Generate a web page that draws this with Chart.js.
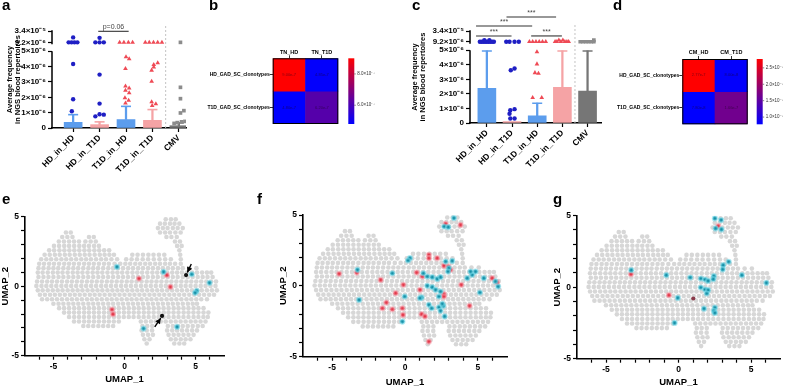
<!DOCTYPE html>
<html>
<head>
<meta charset="utf-8">
<script src="https://cdn.jsdelivr.net/npm/chart.js@4.4.0/dist/chart.umd.min.js"></script>
<style>
html, body { margin: 0; padding: 0; background: #fff; }
#fig { position: relative; width: 786px; height: 388px; overflow: hidden; font-family: 'Liberation Sans', Arial, sans-serif; }
canvas { position: absolute; }
.lbl { position: absolute; font-weight: bold; font-size: 15px; line-height: 15px; color: #000; }
</style>
</head>
<body>
<div id="fig">
  <canvas id="chA" width="195" height="195" style="left:0;top:0"></canvas>
  <canvas id="chB" width="195" height="135" style="left:195px;top:0"></canvas>
  <canvas id="chC" width="203" height="195" style="left:405px;top:0"></canvas>
  <canvas id="chD" width="186" height="135" style="left:600px;top:0"></canvas>
  <canvas id="chE" width="230" height="188" style="left:0;top:200px"></canvas>
  <canvas id="chF" width="235" height="188" style="left:278px;top:200px"></canvas>
  <canvas id="chG" width="234" height="188" style="left:552px;top:200px"></canvas>
  <div class="lbl" style="left:2px;top:-3px">a</div>
  <div class="lbl" style="left:209px;top:-3px">b</div>
  <div class="lbl" style="left:412px;top:-3px">c</div>
  <div class="lbl" style="left:613px;top:-3px">d</div>
  <div class="lbl" style="left:2px;top:191px">e</div>
  <div class="lbl" style="left:257px;top:191px">f</div>
  <div class="lbl" style="left:553px;top:191px">g</div>
</div>
<script>
// ---- panels a / c : average frequency per group ----
const groups = ['HD_in_HD', 'HD_in_T1D', 'T1D_in_HD', 'T1D_in_T1D', 'CMV'];
const yTickVals = [0, 1e-6, 2e-6, 3e-6, 4e-6, 5e-6, 9.2e-6, 3.4e-5];
const yTickLabels = ['0', '1×10⁻⁶', '2×10⁻⁶', '3×10⁻⁶', '4×10⁻⁶', '5×10⁻⁶', '9.2×10⁻⁶', '3.4×10⁻⁵'];

const meanA = [0.37e-6, 0.22e-6, 0.55e-6, 0.5e-6, 0.15e-6];
const errA = [0.87e-6, 0.40e-6, 1.41e-6, 1.20e-6, 0.33e-6];
const hdDotsA = [[0.83, 9.2e-6], [0.94, 9.2e-6], [1.05, 9.2e-6], [1.16, 9.2e-6], [1.0, 2.0e-5], [1.0, 4.17e-6], [1.0, 1.87e-6], [0.95, 1.09e-6],
  [1.84, 9.2e-6], [2.0, 9.2e-6], [2.16, 9.2e-6], [2.0, 1.9e-5], [2.0, 3.48e-6], [2.0, 1.59e-6], [1.84, 0.76e-6], [2.0, 0.9e-6], [2.16, 0.87e-6]];
const t1dDotsA = [[2.76, 9.2e-6], [2.92, 9.2e-6], [3.09, 9.2e-6], [3.25, 9.2e-6], [3.0, 4.63e-6], [3.12, 4.5e-6], [2.98, 3.87e-6], [2.98, 2.72e-6],
  [3.12, 2.6e-6], [2.98, 2.45e-6], [3.12, 2.28e-6], [2.96, 1.96e-6], [3.1, 1.8e-6], [2.98, 1.62e-6],
  [3.73, 9.2e-6], [3.88, 9.2e-6], [4.04, 9.2e-6], [4.2, 9.2e-6], [4.36, 9.2e-6], [4.2, 4.24e-6], [4.05, 4.13e-6], [4.05, 3.96e-6],
  [3.97, 3.76e-6], [3.97, 3.04e-6], [3.97, 1.7e-6], [4.13, 1.57e-6], [3.99, 1.46e-6]];
const cmvDotsA = [[5.06, 9.2e-6], [5.06, 2.65e-6], [5.06, 1.91e-6], [5.06, 0.98e-6], [5.19, 1.13e-6], [4.82, 0.3e-6], [4.94, 0.35e-6], [5.1, 0.4e-6], [5.23, 0.43e-6]];
const sigA = [[1.95, 3.1, 6.3, 'p=0.06']];

const meanC = [2.38e-6, 0.1e-6, 0.5e-6, 2.45e-6, 2.2e-6];
const errC = [4.95e-6, null, 1.36e-6, 4.95e-6, 4.95e-6];
const hdDotsC = [[0.72, 9.2e-6], [0.79, 9.2e-6], [0.86, 9.2e-6], [0.93, 9.2e-6], [1.0, 9.2e-6], [1.07, 9.2e-6], [1.14, 9.2e-6], [1.21, 9.2e-6], [1.28, 9.2e-6],
  [0.9, 1.3e-5], [1.1, 1.3e-5],
  [1.77, 9.2e-6], [1.9, 9.2e-6], [2.1, 9.2e-6], [2.27, 9.2e-6], [1.95, 3.62e-6], [2.1, 3.74e-6], [1.93, 0.88e-6], [2.1, 0.95e-6], [1.9, 0.64e-6], [1.93, 0.31e-6], [2.1, 0.31e-6]];
const t1dDotsC = [[2.69, 9.2e-6], [2.82, 9.2e-6], [2.95, 9.2e-6], [3.08, 9.2e-6], [3.21, 9.2e-6], [3.34, 9.2e-6], [2.99, 4.88e-6], [2.99, 4.05e-6],
  [2.91, 3.45e-6], [3.05, 3.4e-6], [2.82, 1.74e-6], [3.18, 1.74e-6],
  [3.71, 9.2e-6], [3.78, 9.2e-6], [3.86, 1.3e-5], [3.94, 9.2e-6], [4.02, 1.3e-5], [4.1, 9.2e-6], [4.18, 9.2e-6], [4.25, 9.2e-6]];
const cmvDotsC = [[4.71, 9.2e-6], [4.82, 9.2e-6], [4.93, 9.2e-6], [5.04, 9.2e-6], [5.15, 9.2e-6], [5.25, 9.2e-6], [5.25, 1.3e-5]];
const sigC = [[1.78, 3.75, 7.28, '***'], [0.57, 2.8, 6.66, '***'], [0.57, 1.98, 5.98, '***'], [2.76, 3.98, 5.98, '***']];

// ---- panels b / d : heatmaps ----
const hmRows = ['HD_GAD_SC_clonotypes', 'T1D_GAD_SC_clonotypes'];
const hmColsB = ['TN_HD', 'TN_T1D'];
const hmValsB = [[9.0e-7, 4.85e-7], [4.8e-7, 6.2e-7]];
const cbarTicksB = [6.0e-7, 8.0e-7];
const cbarLabelsB = ['6.0×10⁻⁷', '8.0×10⁻⁷'];
const hmColsD = ['CM_HD', 'CM_T1D'];
const hmValsD = [[2.77e-7, 0.8e-7], [0.78e-7, 1.66e-7]];
const cbarTicksD = [1.0e-7, 1.5e-7, 2.0e-7, 2.5e-7];
const cbarLabelsD = ['1.0×10⁻⁷', '1.5×10⁻⁷', '2.0×10⁻⁷', '2.5×10⁻⁷'];

// ---- panels e / f / g : UMAP ----
const umapXTicks = [-6, -5, -4, -3, -2, -1, 0, 1, 2, 3, 4, 5, 6];
const umapYTicks = [-5, -4, -3, -2, -1, 0, 1, 2, 3, 4, 5];
const cloudRows = [
  [4.82, '2.9 3.27 3.6'],
  [4.5, '2.5 2.84 3.2 3.52 3.86'],
  [4.18, '2.35 2.7 3.03 3.4 3.74 4.1'],
  [3.86, '2.5 2.86 3.2 3.58 3.95 -4.12 -3.78'],
  [3.54, '2.95 3.3 3.68 -4.38 -4.02 -3.66 -2.5 -2.16'],
  [3.22, '3.55 3.9 -4.62 -4.26 -3.9 -3.55 -3.2 -2.75 -2.38 -2.02'],
  [2.9, '3.7 4.02 -4.96 -4.6 -4.24 -3.9 -3.54 -3.18 -2.84 -2.5 -2.14 -1.8'],
  [2.58, '3.86 -5.3 -4.95 -4.58 -4.23 -3.88 -3.53 -3.18 -2.82 -2.48 -2.12 -1.78 -1.43 -1.08'],
  [2.26, '3.92 -5.62 -5.26 -4.9 -4.56 -4.2 -3.86 -3.5 -3.15 -2.8 -2.46 -2.1 -1.74 -1.4 -1.06 -0.74 0.55 0.92 1.3 1.68 2.04 2.42 2.8'],
  [1.94, '-5.86 -5.5 -5.16 -4.8 -4.44 -4.1 -3.75 -3.4 -3.04 -2.7 -2.36 -2.0 -1.64 -1.3 -0.92 -0.52 0.12 0.5 0.88 1.28 1.66 2.06 2.46 2.86 3.26 3.96'],
  [1.62, '-6.0 -5.66 -5.3 -4.96 -4.6 -4.24 -3.9 -3.56 -3.2 -2.84 -2.5 -2.16 -1.8 -1.44 -1.1 -0.7 -0.3 0.06 0.4 0.76 1.1 1.46 1.8 2.16 2.5 2.86 3.2 3.56 3.96'],
  [1.3, '-6.05 -5.7 -5.34 -5.0 -4.66 -4.3 -3.95 -3.6 -3.26 -2.9 -2.54 -2.2 -1.86 -1.5 -1.14 -0.8 -0.46 -0.1 0.26 0.6 0.96 1.3 1.66 2.0 2.36 2.7 3.06 3.4 3.76 4.1 4.56 5.06'],
  [0.98, '-6.1 -5.76 -5.4 -5.04 -4.7 -4.36 -4.0 -3.64 -3.3 -2.96 -2.6 -2.24 -1.9 -1.56 -1.2 -0.84 -0.5 -0.16 0.2 0.56 0.9 1.24 1.6 1.96 2.3 2.64 3.0 3.36 3.7 4.04 4.4 4.76 5.1 5.46 5.8 6.1'],
  [0.66, '-6.05 -5.7 -5.35 -5.0 -4.64 -4.3 -3.94 -3.6 -3.25 -2.9 -2.55 -2.2 -1.84 -1.5 -1.15 -0.8 -0.44 -0.1 0.25 0.6 0.95 1.3 1.64 2.0 2.34 2.7 3.05 3.4 3.74 4.1 4.45 4.8 5.15 5.5 5.84 6.2'],
  [0.34, '-6.15 -5.8 -5.44 -5.1 -4.75 -4.4 -4.04 -3.7 -3.35 -3.0 -2.64 -2.3 -1.95 -1.6 -1.24 -0.9 -0.55 -0.2 0.16 0.5 0.85 1.2 1.56 1.9 2.25 2.6 2.96 3.3 3.65 4.0 4.36 4.7 5.05 5.4 5.76 6.1 6.44'],
  [0.02, '-6.2 -5.84 -5.5 -5.15 -4.8 -4.44 -4.1 -3.75 -3.4 -3.04 -2.7 -2.35 -2.0 -1.64 -1.3 -0.95 -0.6 -0.24 0.1 0.45 0.8 1.16 1.5 1.85 2.2 2.56 2.9 3.25 3.6 3.96 4.3 4.65 5.0 5.36 5.7 6.05 6.4'],
  [-0.3, '-6.1 -5.76 -5.4 -5.05 -4.7 -4.36 -4.0 -3.65 -3.3 -2.96 -2.6 -2.25 -1.9 -1.56 -1.2 -0.85 -0.5 -0.16 0.2 0.55 0.9 1.24 1.6 1.95 2.3 2.64 3.0 3.35 3.7 4.04 4.4 4.75 5.1 5.44 5.8 6.15 6.5'],
  [-0.62, '-5.95 -5.6 -5.24 -4.9 -4.55 -4.2 -3.84 -3.5 -3.15 -2.8 -2.44 -2.1 -1.75 -1.4 -1.04 -0.7 -0.35 0.0 0.36 0.7 1.05 1.4 1.76 2.1 2.45 2.8 3.16 3.5 3.85 4.2 4.56 4.9 5.25 5.6 5.96 6.3'],
  [-0.94, '-5.8 -5.44 -5.1 -4.75 -4.4 -4.04 -3.7 -3.35 -3.0 -2.64 -2.3 -1.95 -1.6 -1.24 -0.9 -0.55 -0.2 0.16 0.5 0.85 1.2 1.56 1.9 2.25 2.6 2.96 3.3 3.65 4.0 4.36 4.7 5.05 5.4 5.8'],
  [-1.26, '-5.0 -4.64 -4.3 -3.94 -3.6 -3.25 -2.9 -2.54 -2.2 -1.85 -1.5 -1.14 -0.8 -0.44 -0.1 0.26 0.6 0.95 1.3 1.66 2.0 2.35 2.7 3.06 3.4 3.75 4.1 4.46 4.8 5.1'],
  [-1.58, '-4.6 -4.25 -3.9 -3.54 -3.2 -2.84 -2.5 -2.15 -1.8 -1.44 -1.1 -0.74 -0.4 -0.05 0.3 0.66 1.0 1.35 1.7 2.06 2.4 2.75 3.1 3.46 3.8 4.15 4.5 4.86 5.2 5.56'],
  [-1.9, '-4.25 -3.9 -3.55 -3.2 -2.84 -2.5 -2.15 -1.8 -1.44 -1.1 -0.75 -0.4 -0.04 0.3 0.65 1.0 1.36 1.7 2.05 2.4 2.76 3.1 3.45 3.8 4.16 4.5 4.85 5.2 5.56 5.9'],
  [-2.22, '-3.9 -3.54 -3.2 -2.85 -2.5 -2.14 -1.8 -1.45 -1.1 -0.74 -0.4 -0.05 0.3 0.64 1.0 1.35 1.7 2.06 2.4 2.75 3.1 3.46 3.8 4.15 4.5 4.86 5.2 5.55 5.86'],
  [-2.54, '-3.55 -3.2 -2.84 -2.5 -2.15 -1.8 -1.44 -1.1 -0.75 -0.4 1.15 1.5 1.86 2.2 2.55 2.9 3.26 3.6 3.95 4.3 4.66 5.0 5.35 5.7'],
  [-2.86, '-2.9 -2.55 -2.2 -1.84 -1.5 -1.15 -0.8 1.26 1.6 1.95 3.05 3.4 3.76 4.1 4.45 4.8 5.16 5.5'],
  [-3.18, '1.2 1.56 1.94 3.0 3.36 3.7 4.05 4.4 4.76 5.1'],
  [-3.5, '1.3 1.66 2.0 3.1 3.46 3.8 4.15 4.5 4.86'],
  [-3.82, '1.4 1.76 3.26 3.6 3.96 4.3 4.64'],
  [-4.12, '1.56 3.5 3.86 4.2']
];
const tealE = [[-0.53, 1.39], [2.75, 1.03], [4.73, 0.86], [5.08, -0.34], [4.97, -0.48], [5.98, 0.24], [1.34, -3.05], [3.70, -2.93]];
const redE = [[1.02, 0.55], [2.98, 0.79], [3.23, -0.05], [-0.88, -1.68], [-0.81, -2.01]];
const blackE = [[4.33, 0.8], [2.64, -2.14]];
const arrowsE = [[4.7, 1.6, 4.42, 0.98], [2.13, -2.93, 2.55, -2.3]];
const tealF = [[2.69, 4.19], [2.97, 4.14], [3.36, 4.78], [0.34, 1.95], [0.21, 1.79], [1.26, 0.89], [1.53, 0.66], [1.87, 0.61], [2.21, 0.49],
  [2.44, 0.61], [2.79, 1.72], [3.24, 1.76], [3.01, 1.25], [2.95, 1.01], [1.53, 0.0], [1.87, -0.09], [2.10, -0.28], [2.44, -0.4],
  [2.33, -0.75], [1.14, -0.82], [1.03, -0.87], [1.64, -1.34], [1.83, -1.58], [2.33, -1.51], [2.63, -1.41], [2.44, -1.76], [2.72, -2.16],
  [2.56, -1.27], [-0.02, -0.75], [-0.18, -2.52], [-0.87, 0.89], [-3.15, -0.99], [-3.26, 1.13], [4.27, 0.54], [4.61, 0.78], [4.84, 1.01],
  [4.5, 1.01], [5.14, -0.47], [6.21, 0.31], [6.39, -0.05], [5.41, 0.54]];
const redF = [[2.79, 4.38], [3.81, 4.3], [-4.52, 0.85], [-3.31, 0.94], [-1.67, 0.42], [-1.28, -1.18], [-1.55, -1.58], [-0.87, -1.65],
  [-0.64, -0.52], [-0.11, 0.07], [-0.18, -1.58], [-0.14, -2.05], [0.80, 0.94], [1.19, 0.66], [1.03, -0.28], [1.64, 2.19], [1.64, 1.95],
  [2.21, 1.95], [2.67, 1.41], [2.97, 1.36], [3.13, 1.13], [2.67, -0.59], [2.67, -0.75], [1.14, -2.0], [1.37, -2.16], [1.64, -3.93],
  [3.86, 0.07], [4.43, -1.41], [5.98, 0.54], [6.32, 0.24]];
const tealG = [[2.51, 4.81], [2.94, 4.70], [2.56, 4.11], [2.96, 4.04], [3.46, 1.78], [3.08, 1.54], [3.05, 1.24], [4.37, 0.84], [6.06, 0.30],
  [0.81, 0.68], [1.54, 0.61], [1.83, 0.54], [2.04, 0.44], [2.44, 0.77], [2.40, 0.56], [1.54, -0.02], [1.83, -0.16], [2.04, -0.21],
  [1.95, -0.44], [-0.05, -0.75], [-0.84, 0.84], [-3.26, 1.19], [1.76, -1.5], [2.51, -1.43], [2.44, -1.66], [2.51, -1.8], [-0.27, -2.5]];
const redG = [[2.74, 4.28], [-3.28, 0.91], [-0.66, -0.56]];
const darkRedG = [[1.02, -0.79]];

// colours
const HD_DOT = '#1f1fc4', T1D_DOT = '#ef4a55', CMV_DOT = '#8c8c8c';
const BLUE_BAR = '#5c9ded', PINK_BAR = '#f5a3a5', GRAY_BAR = '#767676';
const TEAL = '#1a8fa6', TEAL_HALO = 'rgba(110,215,232,0.55)';
const RED = '#e23a4b', RED_HALO = 'rgba(246,150,162,0.55)';

Chart.defaults.font.family = "'Liberation Sans', Arial, Helvetica, sans-serif";
Chart.defaults.font.weight = 'bold';
Chart.defaults.color = '#000';
Chart.defaults.animation = false;
Chart.defaults.plugins.legend.display = false;
Chart.defaults.plugins.tooltip.enabled = false;

// broken y axis: 0..5e-6 and 9.2e-6..3.4e-5
const BREAK_LO = 5e-6, TOP_LO = 9.2e-6, TOP_HI = 3.4e-5;
function yT(v) {
  if (v <= BREAK_LO) return v * 1e6;
  return 5.58 + (Math.min(v, TOP_HI) - TOP_LO) / (TOP_HI - TOP_LO) * 0.74;
}

const brokenAxis = {
  id: 'brokenAxis',
  afterDraw(chart) {
    const y = chart.scales.y, ctx = chart.ctx, x0 = chart.chartArea.left;
    ctx.save();
    ctx.strokeStyle = '#000';
    ctx.lineWidth = 1.5;
    ctx.beginPath();
    ctx.moveTo(x0, y.getPixelForValue(0) + 0.75);
    ctx.lineTo(x0, y.getPixelForValue(yT(BREAK_LO)));
    ctx.moveTo(x0, y.getPixelForValue(yT(TOP_LO)) + 2);
    ctx.lineTo(x0, y.getPixelForValue(yT(TOP_HI)) - 0.75);
    ctx.stroke();
    ctx.restore();
  }
};

function sigPlugin(items) {
  return {
    id: 'sigBars',
    afterDraw(chart) {
      const {x, y} = chart.scales, ctx = chart.ctx;
      ctx.save();
      ctx.strokeStyle = '#333';
      ctx.lineWidth = 1.1;
      ctx.fillStyle = '#444';
      ctx.font = 'normal 7px "Liberation Sans", Arial, sans-serif';
      ctx.textAlign = 'center';
      ctx.textBaseline = 'bottom';
      items.forEach(([x1, x2, yv, text]) => {
        const py = y.getPixelForValue(yv);
        ctx.beginPath();
        ctx.moveTo(x.getPixelForValue(x1), py);
        ctx.lineTo(x.getPixelForValue(x2), py);
        ctx.stroke();
        ctx.fillText(text, (x.getPixelForValue(x1) + x.getPixelForValue(x2)) / 2, py - 0.5);
      });
      ctx.restore();
    }
  };
}

function barPanel(id, mean, err, hd, t1d, cmv, sig, lay) {
  const barColors = [BLUE_BAR, PINK_BAR, BLUE_BAR, PINK_BAR, GRAY_BAR];
  const pts = arr => arr.map(([x, v]) => ({x, y: yT(v)}));
  const idx = groups.map((g, i) => i).filter(i => err[i] != null);
  new Chart(document.getElementById(id), {
    type: 'bar',
    data: {
      datasets: [
        {type: 'scatter', data: pts(hd), pointStyle: 'circle', pointRadius: 2.2, pointBackgroundColor: HD_DOT, pointBorderWidth: 0, order: 0},
        {type: 'scatter', data: pts(t1d), pointStyle: 'triangle', pointRadius: 2.7, pointBackgroundColor: T1D_DOT, pointBorderWidth: 0, order: 0},
        {type: 'scatter', data: pts(cmv), pointStyle: 'rect', pointRadius: 2.6, pointBackgroundColor: CMV_DOT, pointBorderWidth: 0, order: 0},
        {type: 'scatter', data: idx.map(i => ({x: i + 1, y: yT(err[i])})), pointStyle: 'line', pointRadius: 5,
          pointBorderColor: idx.map(i => barColors[i]), pointBorderWidth: 1.6, order: 1},
        {type: 'bar', data: idx.map(i => ({x: i + 1, y: [yT(mean[i]), yT(err[i])]})), backgroundColor: idx.map(i => barColors[i]),
          barThickness: 1.6, grouped: false, order: 2},
        {type: 'bar', data: groups.map((g, i) => ({x: i + 1, y: yT(mean[i])})), backgroundColor: barColors,
          barThickness: 18, grouped: false, order: 3},
        {type: 'line', data: [{x: 4.5, y: 0}, {x: 4.5, y: lay.sepTop}], borderColor: '#c4c4c4', borderWidth: 1,
          borderDash: [2, 2], pointRadius: 0, clip: false, order: 4}
      ]
    },
    options: {
      responsive: false,
      layout: {padding: lay.pad},
      scales: {
        x: {
          type: 'linear', min: lay.xMin, max: lay.xMax, offset: false,
          grid: {offset: false, drawOnChartArea: false, drawTicks: true, tickLength: 4, tickColor: '#000', tickWidth: 1.2},
          border: {display: true, color: '#000', width: 1.5},
          afterBuildTicks: s => { s.ticks = groups.map((g, i) => ({value: i + 1})); },
          ticks: {callback: (v, i) => groups[i], autoSkip: false, minRotation: 45, maxRotation: 45, padding: 1,
            font: {size: 8.5, weight: 'bold'}, color: '#000'},
          afterFit: s => { s.height = lay.xH; }
        },
        y: {
          type: 'linear', min: 0, max: 6.32,
          grid: {drawOnChartArea: false, tickLength: 4, tickColor: '#000', tickWidth: 1.2},
          border: {display: false},
          afterBuildTicks: s => { s.ticks = yTickVals.map(v => ({value: yT(v)})); },
          ticks: {callback: (v, i) => yTickLabels[i], autoSkip: false, padding: 2, font: {size: 8, weight: 'bold'}, color: '#000'},
          title: {display: true, text: ['Average frequency', 'in NGS blood repertoires'],
            font: {size: 7.5, weight: 'bold', lineHeight: 1.05}, padding: {top: lay.titlePad, bottom: 0}},
          afterFit: s => { s.width = lay.yW; }
        }
      }
    },
    plugins: [brokenAxis, sigPlugin(sig)]
  });
}

barPanel('chA', meanA, errA, hdDotsA, t1dDotsA, cmvDotsA, sigA,
  {pad: {left: 0, right: 9, top: 31, bottom: 0}, xMin: 0.2, xMax: 5.27, xH: 67, yW: 52, titlePad: 6, sepTop: 6.7});
barPanel('chC', meanC, errC, hdDotsC, t1dDotsC, cmvDotsC, sigC,
  {pad: {left: 0, right: 5, top: 31, bottom: 0}, xMin: 0.33, xMax: 5.55, xH: 72, yW: 65, titlePad: 6, sepTop: 6.85});

// ---- heatmaps ----
function cmap(t) {
  t = Math.max(0, Math.min(1, t));
  return 'rgb(' + Math.round(255 * t) + ',0,' + Math.round(255 * (1 - t)) + ')';
}

function heatPanel(id, cols, vals, cbTicks, cbLabels, lay) {
  const flat = vals.flat();
  const vmin = Math.min(...flat), vmax = Math.max(...flat);
  const nR = hmRows.length;
  const heatPlugin = {
    id: 'heatExtras',
    afterDraw(chart) {
      const {ctx, chartArea: a, scales: {x, y}} = chart;
      ctx.save();
      ctx.strokeStyle = '#000';
      ctx.lineWidth = 1;
      ctx.strokeRect(a.left + 0.5, a.top + 0.5, a.width - 1, a.height - 1);
      ctx.fillStyle = 'rgba(30,0,30,0.55)';
      ctx.font = 'normal 4px "Liberation Sans", Arial, sans-serif';
      ctx.textAlign = 'center';
      ctx.textBaseline = 'middle';
      vals.forEach((row, ri) => row.forEach((v, ci) => {
        ctx.fillText(v.toExponential(2), x.getPixelForValue(ci), y.getPixelForValue(nR - ri - 0.5));
      }));
      const cx = a.right + lay.cbGap, cw = lay.cbW;
      const g = ctx.createLinearGradient(0, a.bottom, 0, a.top);
      g.addColorStop(0, cmap(0));
      g.addColorStop(1, cmap(1));
      ctx.fillStyle = g;
      ctx.fillRect(cx, a.top, cw, a.height);
      ctx.fillStyle = '#333';
      ctx.strokeStyle = '#333';
      ctx.lineWidth = 0.6;
      ctx.font = 'normal 4.5px "Liberation Sans", Arial, sans-serif';
      ctx.textAlign = 'left';
      cbTicks.forEach((v, i) => {
        const py = a.bottom - (v - vmin) / (vmax - vmin) * a.height;
        ctx.beginPath();
        ctx.moveTo(cx + cw, py);
        ctx.lineTo(cx + cw + 1.5, py);
        ctx.stroke();
        ctx.fillText(cbLabels[i], cx + cw + 3, py);
      });
      ctx.restore();
    }
  };
  new Chart(document.getElementById(id), {
    type: 'bar',
    data: {
      labels: cols,
      datasets: hmRows.map((r, ri) => ({
        label: r,
        data: cols.map(() => [nR - 1 - ri, nR - ri]),
        backgroundColor: cols.map((c, ci) => cmap((vals[ri][ci] - vmin) / (vmax - vmin))),
        grouped: false, barPercentage: 1, categoryPercentage: 1, borderWidth: 0
      }))
    },
    options: {
      responsive: false,
      layout: {padding: lay.pad},
      scales: {
        x: {
          position: 'top', offset: true,
          grid: {offset: false, drawOnChartArea: false, tickLength: 3, tickColor: '#000', tickWidth: 0.8},
          border: {display: false},
          ticks: {padding: 0, maxRotation: 0, font: {size: 5.5, weight: 'bold'}, color: '#000'},
          afterFit: s => { s.height = lay.xH; }
        },
        y: {
          type: 'linear', min: 0, max: nR,
          grid: {drawOnChartArea: false, tickLength: 3, tickColor: '#000', tickWidth: 0.8},
          border: {display: false},
          afterBuildTicks: s => { s.ticks = hmRows.map((r, i) => ({value: nR - i - 0.5})); },
          ticks: {callback: (v, i) => hmRows[i], padding: 0, font: {size: 5, weight: 'bold'}, color: '#000'},
          afterFit: s => { s.width = lay.yW; }
        }
      }
    },
    plugins: [heatPlugin]
  });
}

heatPanel('chB', hmColsB, hmValsB, cbarTicksB, cbarLabelsB,
  {pad: {left: 0, right: 51.7, top: 44.3, bottom: 11}, xH: 14, yW: 77.7, cbGap: 10, cbW: 6});
heatPanel('chD', hmColsD, hmValsD, cbarTicksD, cbarLabelsD,
  {pad: {left: 0, right: 38.3, top: 45, bottom: 10.7}, xH: 14, yW: 82.3, cbGap: 9, cbW: 6});

// ---- UMAP panels ----
const cloud = [];
cloudRows.forEach(([yv, xs]) => xs.trim().split(/\s+/).forEach(s => cloud.push({x: parseFloat(s), y: yv})));

function arrowPlugin(arrows) {
  return {
    id: 'arrows',
    afterDatasetsDraw(chart) {
      const {ctx, scales: {x, y}} = chart;
      ctx.save();
      ctx.strokeStyle = '#000';
      ctx.fillStyle = '#000';
      ctx.lineWidth = 1.4;
      arrows.forEach(([x1, y1, x2, y2]) => {
        const px1 = x.getPixelForValue(x1), py1 = y.getPixelForValue(y1);
        const px2 = x.getPixelForValue(x2), py2 = y.getPixelForValue(y2);
        const ang = Math.atan2(py2 - py1, px2 - px1);
        ctx.beginPath();
        ctx.moveTo(px1, py1);
        ctx.lineTo(px2, py2);
        ctx.stroke();
        ctx.beginPath();
        ctx.moveTo(px2, py2);
        ctx.lineTo(px2 - 5.5 * Math.cos(ang) + 2.8 * Math.sin(ang), py2 - 5.5 * Math.sin(ang) - 2.8 * Math.cos(ang));
        ctx.lineTo(px2 - 5.5 * Math.cos(ang) - 2.8 * Math.sin(ang), py2 - 5.5 * Math.sin(ang) + 2.8 * Math.cos(ang));
        ctx.closePath();
        ctx.fill();
      });
      ctx.restore();
    }
  };
}

function umapPanel(id, layers, lay, arrows) {
  const toPts = arr => arr.map(([x, y]) => ({x, y}));
  const datasets = layers.map(l => ({
    data: toPts(l.pts), pointRadius: 2.1, pointBackgroundColor: l.color,
    pointBorderColor: l.halo, pointBorderWidth: l.halo ? 2 : 0, order: 0
  }));
  datasets.push({data: cloud, pointRadius: 2.3, pointBackgroundColor: '#d7d7d7', pointBorderWidth: 0, order: 9});
  new Chart(document.getElementById(id), {
    type: 'scatter',
    data: {datasets},
    options: {
      responsive: false,
      layout: {padding: lay.pad},
      scales: {
        x: {
          min: -7, max: 7,
          grid: {drawOnChartArea: false, tickLength: 4, tickColor: '#000', tickWidth: 1.2},
          border: {color: '#000', width: 1.6},
          afterBuildTicks: s => { s.ticks = umapXTicks.map(v => ({value: v})); },
          ticks: {callback: v => (v % 5 === 0 ? String(v) : ''), autoSkip: false, maxRotation: 0, padding: 2,
            font: {size: 8.5, weight: 'bold'}, color: '#000'},
          title: {display: true, text: 'UMAP_1', font: {size: 9.5, weight: 'bold'}, padding: {top: 0, bottom: lay.titleB}},
          afterFit: s => { s.height = lay.xH; }
        },
        y: {
          min: -5, max: 5,
          grid: {drawOnChartArea: false, tickLength: 4, tickColor: '#000', tickWidth: 1.2},
          border: {color: '#000', width: 1.6},
          afterBuildTicks: s => { s.ticks = umapYTicks.map(v => ({value: v})); },
          ticks: {callback: v => (v % 5 === 0 ? String(v) : ''), autoSkip: false, padding: 2,
            font: {size: 8.5, weight: 'bold'}, color: '#000'},
          title: {display: true, text: 'UMAP_2', font: {size: 9.5, weight: 'bold'}, padding: 0},
          afterFit: s => { s.width = 25; }
        }
      }
    },
    plugins: arrows ? [arrowPlugin(arrows)] : []
  });
}

umapPanel('chE', [
  {pts: blackE, color: '#111'},
  {pts: tealE, color: TEAL, halo: TEAL_HALO},
  {pts: redE, color: RED, halo: RED_HALO}
], {pad: {left: 0, right: 3, top: 16.7, bottom: 0}, xH: 32.3, titleB: 3}, arrowsE);

umapPanel('chF', [
  {pts: tealF, color: TEAL, halo: TEAL_HALO},
  {pts: redF, color: RED, halo: RED_HALO}
], {pad: {left: 0, right: 3, top: 15, bottom: 0}, xH: 31.3, titleB: 0});

umapPanel('chG', [
  {pts: darkRedG, color: '#8a3a4a'},
  {pts: tealG, color: TEAL, halo: TEAL_HALO},
  {pts: redG, color: RED, halo: RED_HALO}
], {pad: {left: 0, right: 3, top: 15.7, bottom: 0}, xH: 29.3, titleB: 0});
</script>
</body>
</html>
